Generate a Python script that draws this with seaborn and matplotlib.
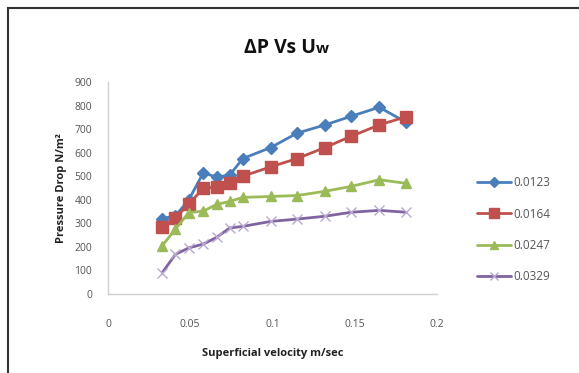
import matplotlib
matplotlib.use("Agg")
import matplotlib.pyplot as plt
from matplotlib.patches import Rectangle
from matplotlib.lines import Line2D
import seaborn as sns
import pandas as pd

# Superficial velocity (m/sec)
velocity = [0.033, 0.041, 0.049, 0.058, 0.066, 0.074, 0.082, 0.099, 0.115, 0.132, 0.148, 0.165, 0.181]

# Pressure drop (N/m^2) for each series
dp_0123 = [320, 332, 398, 515, 496, 505, 575, 622, 683, 718, 755, 793, 730]
dp_0164 = [286, 322, 382, 448, 455, 472, 500, 540, 575, 622, 670, 718, 752]
dp_0247 = [205, 275, 345, 352, 380, 393, 410, 414, 418, 436, 457, 485, 470]
dp_0329 = [90, 168, 195, 212, 240, 280, 287, 308, 318, 330, 347, 355, 347]

series_names = ["0.0123", "0.0164", "0.0247", "0.0329"]
series_values = [dp_0123, dp_0164, dp_0247, dp_0329]

x_ticks = [0, 0.05, 0.1, 0.15, 0.2]
x_tick_labels = ["0", "0.05", "0.1", "0.15", "0.2"]
y_ticks = [0, 100, 200, 300, 400, 500, 600, 700, 800, 900]

sns.set_theme(style="white")
plt.rcParams["font.family"] = ["Open Sans", "DejaVu Sans"]

palette = {"0.0123": "#4A7EBB", "0.0164": "#C0504D", "0.0247": "#9BBB59", "0.0329": "#8064A2"}
markers = {"0.0123": "D", "0.0164": "s", "0.0247": "^", "0.0329": "x"}
msizes = {"0.0123": 6, "0.0164": 8.5, "0.0247": 7.5, "0.0329": 7}
medge = {"0.0123": "#4A7EBB", "0.0164": "#C0504D", "0.0247": "#9BBB59", "0.0329": "#B8A8D0"}

fig = plt.figure(figsize=(5.79, 3.73), dpi=100)
ax = fig.add_axes([0.1865, 0.212, 0.568, 0.568])

for name, vals in zip(series_names, series_values):
    d = pd.DataFrame({"v": velocity, "dp": vals})
    sns.lineplot(data=d, x="v", y="dp", color=palette[name], marker=markers[name],
                 markersize=msizes[name], markeredgecolor=medge[name],
                 markeredgewidth=1.0, linewidth=2.0, ax=ax, legend=False)

ax.set_xlim(0, 0.2)
ax.set_ylim(0, 900)
ax.set_xticks(x_ticks)
ax.set_xticklabels(x_tick_labels)
ax.set_yticks(y_ticks)
ax.tick_params(axis="both", labelsize=7.5, colors="#555555", length=0)
ax.tick_params(axis="y", pad=11.5)
ax.tick_params(axis="x", pad=18)

for side in ["top", "right"]:
    ax.spines[side].set_visible(False)
for side in ["left", "bottom"]:
    ax.spines[side].set_color("#D0D0D0")
    ax.spines[side].set_linewidth(1.0)

ax.set_xlabel("Superficial velocity m/sec", fontsize=8, fontweight="bold", color="#222222", labelpad=13)
ax.set_ylabel("Pressure Drop N/m²", fontsize=8, fontweight="bold", color="#222222", labelpad=5)

# title with a smaller "w"
fig.text(0.546, 0.858, "ΔP Vs U", ha="right", va="baseline", fontsize=14, fontweight="bold", color="#111111")
fig.text(0.546, 0.858, "w", ha="left", va="baseline", fontsize=11, fontweight="bold", color="#111111")

# legend on the right
handles = []
for name in series_names:
    handles.append(Line2D([0], [0], color=palette[name], marker=markers[name],
                          markersize=msizes[name] * 0.8, linewidth=2.0,
                          markeredgecolor=medge[name]))
leg = fig.legend(handles, series_names, loc="upper left", bbox_to_anchor=(0.815, 0.54),
                 frameon=False, fontsize=8.5, labelspacing=1.55, handlelength=2.9,
                 handletextpad=0.2, borderaxespad=0)
for t in leg.get_texts():
    t.set_color("#555555")

# chart frame
fig.patches.append(Rectangle((8 / 579, -0.1), 1.2, 0.1 + 1 - 8 / 373,
                             transform=fig.transFigure, fill=False,
                             edgecolor="#333333", linewidth=1.5))

fig.savefig("out.png", dpi=100)
